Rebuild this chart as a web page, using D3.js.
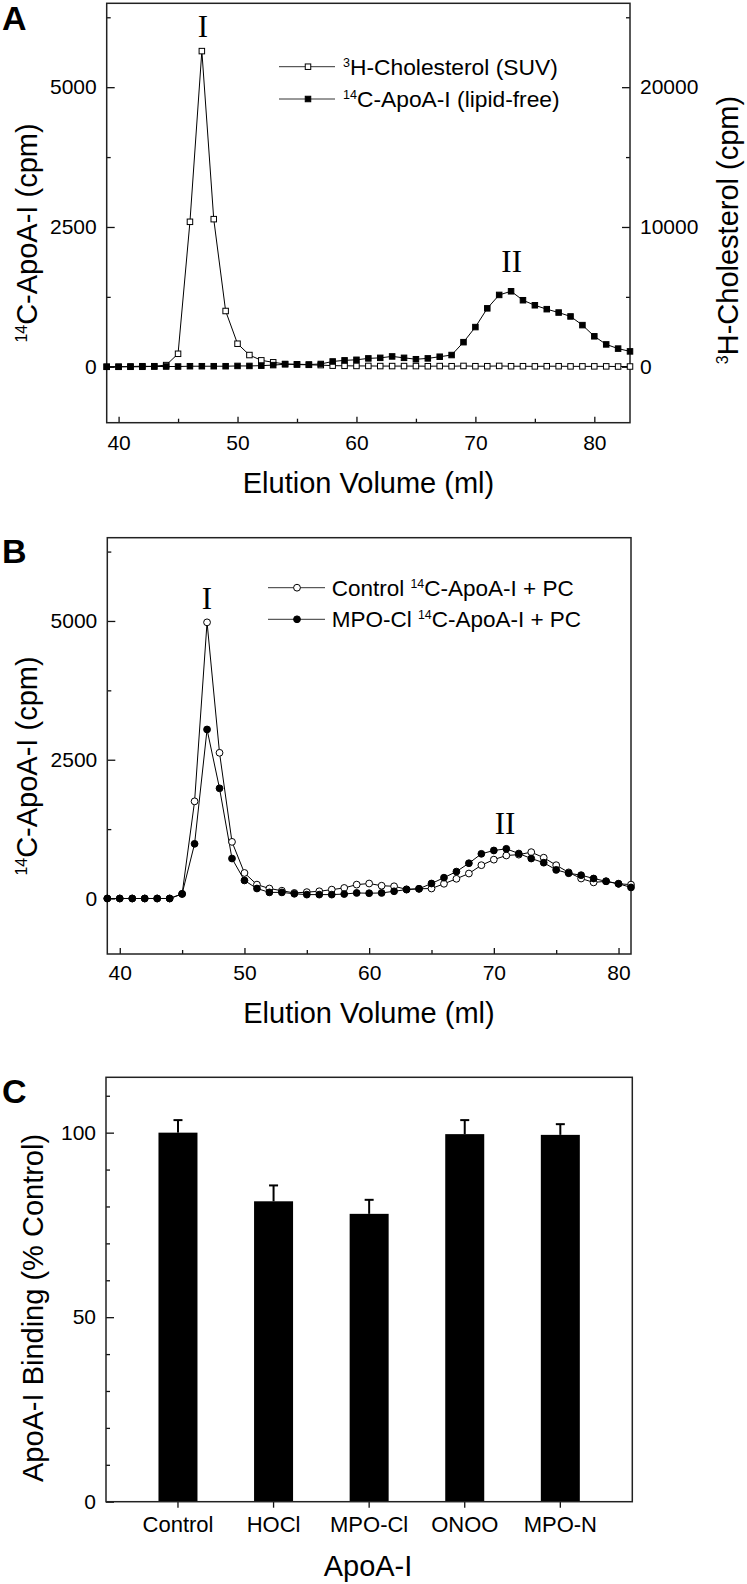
<!DOCTYPE html>
<html><head><meta charset="utf-8">
<script src="https://cdn.jsdelivr.net/npm/d3@7"></script>
<style>
html,body{margin:0;padding:0;background:#fff;}
svg{display:block;}
</style></head>
<body>
<svg id="chart" width="747" height="1584" font-family='"Liberation Sans",Arial,sans-serif'></svg>
<script>
// ---------- DATA ----------
// Panel A: elution volume 39..83 ml
const volumeA = d3.range(39, 84);
const cholesterolA = [0,0,0,0,40,120,930,10370,22580,10560,3990,1650,840,460,320,200,160,140,120,80,70,60,60,50,50,50,50,40,50,40,60,40,40,60,40,40,30,40,40,30,30,30,30,20,20];
const apoA1A = [0,0,5,10,5,5,5,10,10,10,10,15,15,20,30,45,45,40,50,95,115,125,150,160,185,160,135,150,180,210,440,710,1045,1285,1350,1190,1100,1030,970,900,745,545,400,325,275];
// Panel B: elution volume 39..81 ml
const volumeB = d3.range(39, 82);
const controlB = [0,0,0,0,0,0,80,1750,4975,2625,1020,460,250,180,140,100,115,130,160,190,250,270,230,220,165,175,180,265,355,450,600,700,775,790,835,735,600,470,360,290,310,265,250];
const mpoClB = [0,0,0,0,0,0,85,985,3045,1985,720,325,180,110,110,85,70,70,70,80,100,95,100,130,160,175,270,375,485,635,805,865,895,810,720,645,515,455,420,360,310,265,200];
// Panel C
const categoriesC = ["Control","HOCl","MPO-Cl","ONOO","MPO-N"];
const bindingC = [100, 81.4, 78.0, 99.6, 99.4];
const errorC = [3.4, 4.3, 3.8, 3.8, 2.9];
// tick values
const leftTicksMajor = [0, 2500, 5000];
const leftTicksMinor = [1250, 3750, 6250];
const rightTicksMajor = [0, 10000, 20000];
const rightTicksMinor = [5000, 15000, 25000];
const xTicksMajor = [40, 50, 60, 70, 80];
const xTicksMinor = [45, 55, 65, 75];
const cTicksMajor = [0, 50, 100];
const cTicksMinor = [10, 20, 30, 40, 60, 70, 80, 90, 110];

// ---------- DRAW ----------
const svg = d3.select("#chart");
const FONT = '"Liberation Sans",Arial,sans-serif';
const SERIF = '"Liberation Serif","Times New Roman",serif';

function styleAxis(g, size){
  g.attr("font-family", FONT).attr("font-size", size);
  g.select(".domain").remove();
  g.selectAll(".tick line").attr("stroke", "#111").attr("stroke-width", 1.3);
  g.selectAll(".tick text").attr("fill", "#000");
}
function frame(x0, y0, x1, y1){
  svg.append("rect").attr("x", x0).attr("y", y0).attr("width", x1 - x0).attr("height", y1 - y0)
    .attr("fill", "none").attr("stroke", "#222").attr("stroke-width", 1.5);
}
function supText(g, parts, attrs, supScale){
  const sc = supScale || 0.6;
  const t = g.append("text");
  Object.entries(attrs).forEach(([k,v]) => t.attr(k, v));
  parts.forEach(p => {
    if (p.sup) {
      t.append("tspan").attr("font-size", sc + "em").attr("dy", "-0.65em").text(p.sup);
      t.append("tspan").attr("dy", (0.65 * sc).toFixed(3) + "em").text(p.t);
    } else {
      t.append("tspan").text(p.t);
    }
  });
  return t;
}
function roman(x, y, s){
  svg.append("text").attr("x", x).attr("y", y).attr("text-anchor", "middle")
    .attr("font-family", SERIF).attr("font-size", 31).text(s);
}

// ===== Panel A =====
{
  const L = 106.7, R = 630, T = 3.3, B = 422.7;
  const x = d3.scaleLinear().domain([39, 83]).range([L, R]);
  const y = d3.scaleLinear().domain([-1000, 6500]).range([B, T]);
  const y2 = d3.scaleLinear().domain([-4000, 26000]).range([B, T]);

  svg.append("g").attr("transform", `translate(0,${B})`)
    .call(d3.axisBottom(x).tickValues(xTicksMajor).tickSize(-6).tickPadding(12)).call(g => styleAxis(g, 21));
  svg.append("g").attr("transform", `translate(0,${B})`)
    .call(d3.axisBottom(x).tickValues(xTicksMinor).tickSize(-4).tickFormat("")).call(g => styleAxis(g, 21));
  svg.append("g").attr("transform", `translate(${L},0)`)
    .call(d3.axisLeft(y).tickValues(leftTicksMajor).tickSize(-8).tickPadding(10).tickFormat(d3.format("d"))).call(g => styleAxis(g, 21));
  svg.append("g").attr("transform", `translate(${L},0)`)
    .call(d3.axisLeft(y).tickValues(leftTicksMinor).tickSize(-4).tickFormat("")).call(g => styleAxis(g, 21));
  svg.append("g").attr("transform", `translate(${R},0)`)
    .call(d3.axisRight(y2).tickValues(rightTicksMajor).tickSize(-8).tickPadding(10).tickFormat(d3.format("d"))).call(g => styleAxis(g, 21));
  svg.append("g").attr("transform", `translate(${R},0)`)
    .call(d3.axisRight(y2).tickValues(rightTicksMinor).tickSize(-4).tickFormat("")).call(g => styleAxis(g, 21));
  frame(L, T, R, B);

  const ptsChol = volumeA.map((v, i) => [x(v), y2(cholesterolA[i])]);
  const ptsApo = volumeA.map((v, i) => [x(v), y(apoA1A[i])]);
  const line = d3.line();
  svg.append("path").attr("d", line(ptsChol)).attr("fill", "none").attr("stroke", "#000").attr("stroke-width", 1);
  svg.append("path").attr("d", line(ptsApo)).attr("fill", "none").attr("stroke", "#000").attr("stroke-width", 1);
  const s = 5.5;
  svg.append("g").selectAll("rect").data(ptsChol).join("rect")
    .attr("x", d => d[0] - s/2).attr("y", d => d[1] - s/2).attr("width", s).attr("height", s)
    .attr("fill", "#fff").attr("stroke", "#000").attr("stroke-width", 1);
  svg.append("g").selectAll("rect").data(ptsApo).join("rect")
    .attr("x", d => d[0] - s/2).attr("y", d => d[1] - s/2).attr("width", s).attr("height", s)
    .attr("fill", "#000").attr("stroke", "#000").attr("stroke-width", 1);

  // legend
  const legRows = [
    {y: 66.7, fill: "#fff", parts: [{sup: "3", t: "H-Cholesterol (SUV)"}]},
    {y: 99, fill: "#000", parts: [{sup: "14", t: "C-ApoA-I (lipid-free)"}]}
  ];
  legRows.forEach(r => {
    svg.append("line").attr("x1", 279).attr("x2", 335).attr("y1", r.y).attr("y2", r.y).attr("stroke", "#333").attr("stroke-width", 1);
    svg.append("rect").attr("x", 308 - s/2).attr("y", r.y - s/2).attr("width", s).attr("height", s)
      .attr("fill", r.fill).attr("stroke", "#000");
    supText(svg, r.parts, {x: 343, y: r.y + 8, "font-size": 22.8}, 0.55);
  });

  roman(203, 37.3, "I");
  roman(511.7, 272, "II");

  svg.append("text").attr("x", 368.5).attr("y", 492.7).attr("text-anchor", "middle").attr("font-size", 29).text("Elution Volume (ml)");
  supText(svg.append("g").attr("transform", "translate(37,233) rotate(-90)"), [{sup: "14", t: "C-ApoA-I (cpm)"}], {x: 0, y: 0, "text-anchor": "middle", "font-size": 29}, 0.55);
  supText(svg.append("g").attr("transform", "translate(738,230) rotate(-90)"), [{sup: "3", t: "H-Cholesterol (cpm)"}], {x: 0, y: 0, "text-anchor": "middle", "font-size": 29}, 0.55);
  svg.append("text").attr("x", 2).attr("y", 30).attr("font-weight", "bold").attr("font-size", 34).text("A");
}

// ===== Panel B =====
{
  const L = 107.3, R = 631, T = 537.7, B = 954;
  const x = d3.scaleLinear().domain([39, 81]).range([L, R]);
  const y = d3.scaleLinear().domain([-1000, 6500]).range([B, T]);

  svg.append("g").attr("transform", `translate(0,${B})`)
    .call(d3.axisBottom(x).tickValues(xTicksMajor).tickSize(-6).tickPadding(11)).call(g => styleAxis(g, 21));
  svg.append("g").attr("transform", `translate(0,${B})`)
    .call(d3.axisBottom(x).tickValues(xTicksMinor).tickSize(-4).tickFormat("")).call(g => styleAxis(g, 21));
  svg.append("g").attr("transform", `translate(${L},0)`)
    .call(d3.axisLeft(y).tickValues(leftTicksMajor).tickSize(-8).tickPadding(10).tickFormat(d3.format("d"))).call(g => styleAxis(g, 21));
  svg.append("g").attr("transform", `translate(${L},0)`)
    .call(d3.axisLeft(y).tickValues(leftTicksMinor).tickSize(-4).tickFormat("")).call(g => styleAxis(g, 21));
  frame(L, T, R, B);

  const ptsC = volumeB.map((v, i) => [x(v), y(controlB[i])]);
  const ptsM = volumeB.map((v, i) => [x(v), y(mpoClB[i])]);
  const line = d3.line();
  svg.append("path").attr("d", line(ptsC)).attr("fill", "none").attr("stroke", "#000").attr("stroke-width", 1);
  svg.append("path").attr("d", line(ptsM)).attr("fill", "none").attr("stroke", "#000").attr("stroke-width", 1);
  const r = 3.4;
  svg.append("g").selectAll("circle").data(ptsC).join("circle")
    .attr("cx", d => d[0]).attr("cy", d => d[1]).attr("r", r)
    .attr("fill", "#fff").attr("stroke", "#000").attr("stroke-width", 1);
  svg.append("g").selectAll("circle").data(ptsM).join("circle")
    .attr("cx", d => d[0]).attr("cy", d => d[1]).attr("r", r)
    .attr("fill", "#000").attr("stroke", "#000").attr("stroke-width", 1);

  const legRows = [
    {y: 587.7, fill: "#fff", parts: [{t: "Control "}, {sup: "14", t: "C-ApoA-I + PC"}]},
    {y: 619.3, fill: "#000", parts: [{t: "MPO-Cl "}, {sup: "14", t: "C-ApoA-I + PC"}]}
  ];
  legRows.forEach(rw => {
    svg.append("line").attr("x1", 268).attr("x2", 325).attr("y1", rw.y).attr("y2", rw.y).attr("stroke", "#333").attr("stroke-width", 1);
    svg.append("circle").attr("cx", 297).attr("cy", rw.y).attr("r", r).attr("fill", rw.fill).attr("stroke", "#000");
    supText(svg, rw.parts, {x: 331.7, y: rw.y + 8, "font-size": 22.5}, 0.55);
  });

  roman(207, 609.3, "I");
  roman(505, 834, "II");

  svg.append("text").attr("x", 369).attr("y", 1022.7).attr("text-anchor", "middle").attr("font-size", 29).text("Elution Volume (ml)");
  supText(svg.append("g").attr("transform", "translate(37,766) rotate(-90)"), [{sup: "14", t: "C-ApoA-I (cpm)"}], {x: 0, y: 0, "text-anchor": "middle", "font-size": 29}, 0.55);
  svg.append("text").attr("x", 2).attr("y", 563).attr("font-weight", "bold").attr("font-size", 34).text("B");
}

// ===== Panel C =====
{
  const L = 106, R = 632.3, T = 1077.3, B = 1501.7;
  const x = d3.scaleBand().domain(categoriesC).range([L, R]).paddingInner(0.592).paddingOuter(0.549);
  const y = d3.scaleLinear().domain([0, 115]).range([B, T]);

  svg.append("g").selectAll("rect").data(categoriesC).join("rect")
    .attr("x", d => x(d)).attr("width", x.bandwidth())
    .attr("y", (d, i) => y(bindingC[i])).attr("height", (d, i) => B - y(bindingC[i]))
    .attr("fill", "#000");
  const eb = svg.append("g").attr("stroke", "#000").attr("stroke-width", 2);
  categoriesC.forEach((c, i) => {
    const cx = x(c) + x.bandwidth() / 2;
    eb.append("line").attr("x1", cx).attr("x2", cx).attr("y1", y(bindingC[i])).attr("y2", y(bindingC[i] + errorC[i]));
    eb.append("line").attr("x1", cx - 4.5).attr("x2", cx + 4.5).attr("y1", y(bindingC[i] + errorC[i])).attr("y2", y(bindingC[i] + errorC[i]));
  });

  svg.append("g").attr("transform", `translate(0,${B})`)
    .call(d3.axisBottom(x).tickSize(6).tickPadding(9)).call(g => styleAxis(g, 22));
  svg.append("g").attr("transform", `translate(${L},0)`)
    .call(d3.axisLeft(y).tickValues(cTicksMajor).tickSize(-8).tickPadding(10)).call(g => styleAxis(g, 21));
  svg.append("g").attr("transform", `translate(${L},0)`)
    .call(d3.axisLeft(y).tickValues(cTicksMinor).tickSize(-4).tickFormat("")).call(g => styleAxis(g, 21));
  frame(L, T, R, B);

  svg.append("text").attr("x", 368).attr("y", 1575.5).attr("text-anchor", "middle").attr("font-size", 29).text("ApoA-I");
  svg.append("text").attr("transform", "translate(43.3,1308) rotate(-90)").attr("text-anchor", "middle").attr("font-size", 29).text("ApoA-I Binding (% Control)");
  svg.append("text").attr("x", 2).attr("y", 1103).attr("font-weight", "bold").attr("font-size", 34).text("C");
}
</script>
</body></html>
